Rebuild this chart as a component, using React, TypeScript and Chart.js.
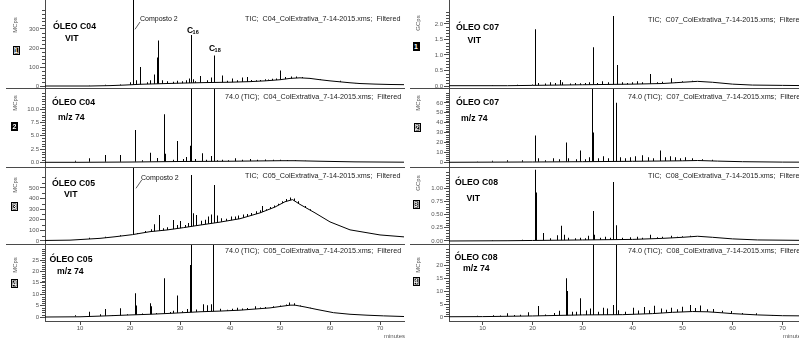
import React, { useEffect, useRef } from 'react';
import { Chart, registerables } from 'chart.js';

Chart.register(...registerables);

const FONT = "'Liberation Sans', Arial, Helvetica, sans-serif";
const AXIS = '#4a4a4a';
const TICK_TXT = '#555555';

// ---- x axis (retention time, minutes) ----
const minuteTicks = [10, 20, 30, 40, 50, 60, 70];

// ---- y tick labels per panel ----
const c04TicTicks = [0, 100, 200, 300];
const c04Mz74Ticks = [0, 2.5, 5, 7.5, 10];
const c05TicTicks = [0, 100, 200, 300, 400, 500];
const c05Mz74Ticks = [0, 5, 10, 15, 20, 25];
const c07TicTicks = [0, 0.5, 1.0, 1.5, 2.0];
const c07Mz74Ticks = [0, 10, 20, 30, 40, 50, 60];
const c08TicTicks = [0, 0.25, 0.5, 0.75, 1.0];
const c08Mz74Ticks = [0, 5, 10, 15, 20];

// ---- chromatogram baselines [time, intensity] ----
const c04TicBaseline = [[3, 0], [12, 0], [16, 2], [19, 5], [22, 9], [26, 12], [30, 15], [35, 18], [40, 20], [44, 23], [47, 27], [50, 33], [52, 40], [54, 43], [56, 40], [58, 33], [60, 27], [62, 22], [64, 17], [66, 13], [69, 10], [72, 8], [75, 7]];
const c04Mz74Baseline = [[3, 0], [10, 0], [20, 0.05], [30, 0.15], [40, 0.2], [50, 0.3], [53, 0.3], [58, 0.2], [65, 0.08], [75, 0.02]];
const c05TicBaseline = [[3, 5], [8, 8], [14, 25], [17, 40], [20.5, 60], [24, 88], [27.4, 104], [30.7, 126], [34, 150], [38, 178], [42, 210], [46, 265], [49, 320], [51, 370], [52.5, 390], [54, 345], [57, 265], [60, 180], [64, 105], [70, 57], [75, 38]];
const c05Mz74Baseline = [[3, 0], [10, 0.1], [14, 0.4], [20, 0.9], [24, 1.2], [28, 1.6], [34, 2.3], [38, 2.6], [42, 3.0], [45, 3.5], [48, 4.0], [50, 4.6], [52, 5.2], [53, 5.2], [55, 4.4], [57.4, 3.3], [60.7, 1.9], [64, 1.2], [67.4, 0.8], [70.7, 0.5], [75, 0.2]];
const c07TicBaseline = [[3, 0.01], [15, 0.01], [20, 0.02], [30, 0.04], [40, 0.06], [46, 0.08], [50, 0.12], [53, 0.15], [56, 0.12], [60, 0.06], [64, 0.03], [70, 0.02], [76, 0.01]];
const c07Mz74Baseline = [[3, 0], [20, 0.3], [30, 0.6], [40, 1], [50, 1.5], [53, 1.8], [57, 1.2], [62, 0.6], [70, 0.2], [76, 0.1]];
const c08TicBaseline = [[3, 0], [15, 0.005], [20, 0.01], [30, 0.02], [40, 0.03], [46, 0.05], [50, 0.07], [53, 0.09], [56, 0.07], [60, 0.04], [65, 0.02], [76, 0.01]];
const c08Mz74Baseline = [[3, 0.1], [10, 0.15], [20, 0.4], [30, 0.8], [38, 0.9], [44, 1.3], [48, 1.8], [52, 2.1], [55, 2.0], [58, 1.6], [60, 1.3], [65, 0.8], [70, 0.5], [76, 0.4]];

// ---- chromatogram peaks [time, apex intensity] ----
const c04TicPeaks = [[11.9, 4], [15.1, 6], [18.1, 8], [20.0, 20], [20.7, 3000], [21.2, 30], [22.1, 100], [23.5, 20], [24.1, 30], [24.8, 60], [25.5, 150], [25.7, 240], [26.5, 30], [27.4, 25], [28.7, 22], [29.5, 28], [30.5, 25], [31.3, 30], [31.8, 40], [32.2, 268], [32.6, 35], [33.0, 25], [34.1, 52], [35.5, 30], [36.2, 45], [36.8, 160], [38.4, 55], [39.5, 28], [40.4, 40], [41.5, 30], [42.5, 45], [43.4, 48], [44.4, 32], [45.3, 30], [46.1, 32], [47.0, 35], [47.7, 34], [48.4, 38], [49.3, 40], [50.1, 81], [51.0, 48], [52.3, 50], [53.2, 50], [54.5, 48], [56.0, 42], [58.0, 36], [62.0, 27], [65.0, 16]];
const c04Mz74Peaks = [[9, 0.3], [11.9, 0.75], [15.1, 1.4], [18.1, 1.4], [21.1, 6.1], [22.5, 0.4], [24.1, 1.8], [25.4, 0.8], [26.9, 9.05], [27.1, 1.6], [28.7, 0.5], [29.5, 4.0], [30.6, 0.6], [31.2, 1.0], [32.0, 3.1], [32.2, 100], [33.0, 0.6], [34.4, 1.7], [35.3, 0.5], [36.2, 1.2], [36.8, 100], [37.5, 0.4], [38.5, 0.5], [39.6, 0.4], [41.0, 0.75], [42.5, 0.5], [44.0, 0.6], [45.5, 0.5], [47.0, 0.55], [48.6, 0.5], [50.0, 0.5], [51.5, 0.45], [53.0, 0.4], [55.0, 0.3]];
const c05TicPeaks = [[11.9, 30], [15.0, 40], [18.0, 55], [20.7, 3000], [21.5, 75], [23.0, 95], [24.3, 110], [24.9, 158], [25.9, 245], [26.6, 120], [27.5, 130], [28.7, 198], [29.4, 150], [30.1, 189], [31.0, 150], [31.6, 170], [32.2, 623], [32.6, 261], [33.3, 245], [34.2, 190], [35.0, 200], [35.6, 230], [36.2, 250], [36.8, 528], [37.4, 240], [38.3, 215], [39.2, 210], [40.2, 230], [41.0, 230], [41.8, 240], [42.6, 250], [43.5, 255], [44.3, 265], [45.2, 280], [46.0, 290], [46.5, 330], [47.3, 300], [48.0, 320], [48.8, 335], [49.6, 350], [50.4, 375], [51.2, 395], [52.0, 410], [52.8, 400], [53.6, 375], [55.0, 330], [56.0, 300]];
const c05Mz74Peaks = [[9, 0.8], [11.9, 2.3], [14, 1.2], [15.1, 3.5], [16.5, 0.8], [18.1, 3.8], [19.5, 1.2], [21.1, 10.4], [21.3, 5], [22.5, 1.5], [24.1, 6], [24.3, 4.7], [25.2, 1.8], [26.9, 17], [28.0, 2.2], [28.7, 2.8], [29.5, 9.4], [30.4, 2.5], [31.4, 3.5], [32.0, 22.8], [32.2, 100], [33.2, 3.3], [34.7, 5.6], [35.5, 5.2], [36.2, 5.6], [36.7, 100], [38.1, 3.6], [39.5, 3.2], [40.5, 3.6], [41.4, 4.1], [42.5, 3.7], [43.5, 4.0], [45.0, 4.7], [46.0, 4.2], [47.0, 4.4], [48.7, 4.7], [50.0, 5.1], [51.2, 5.5], [51.8, 6.4], [52.8, 6.0], [54.0, 5.0], [56.0, 4.1]];
const c07TicPeaks = [[12, 0.03], [17, 0.04], [20.0, 0.05], [20.6, 1.83], [21.1, 0.1], [22.5, 0.08], [23.5, 0.12], [24.5, 0.1], [25.5, 0.19], [26.0, 0.12], [27.5, 0.08], [28.5, 0.1], [29.5, 0.09], [30.5, 0.1], [31.3, 0.12], [32.1, 1.25], [32.3, 0.62], [33.0, 0.1], [34.0, 0.15], [35.2, 0.12], [36.2, 2.26], [36.9, 0.68], [38.0, 0.12], [39.0, 0.1], [40.0, 0.12], [41.0, 0.15], [42.0, 0.12], [43.5, 0.39], [45.0, 0.12], [46.0, 0.14], [47.8, 0.25], [48.5, 0.12], [50.0, 0.15], [52.0, 0.17]];
const c07Mz74Peaks = [[9, 0.8], [12, 1.5], [15, 2], [18, 2], [20.6, 27], [21.2, 4], [22.5, 2], [24.2, 4], [25.4, 3], [26.7, 20], [27.2, 4], [28.7, 3], [29.5, 12], [30.5, 3], [31.3, 5], [32.0, 500], [32.3, 30], [33.2, 4], [34.2, 6], [35.2, 4], [36.2, 500], [36.7, 60], [37.5, 5], [38.5, 4], [39.5, 5], [40.5, 6], [42.0, 7], [43.2, 5], [44.2, 4], [45.5, 12], [46.5, 5], [47.5, 6], [48.5, 5], [49.5, 4], [50.5, 5], [52.0, 4], [54.0, 3], [56.0, 2.5]];
const c08TicPeaks = [[12, 0.02], [15, 0.02], [18, 0.025], [20.6, 1.35], [20.8, 0.92], [22.1, 0.15], [23.5, 0.05], [24.9, 0.11], [25.8, 0.29], [26.3, 0.12], [27.2, 0.06], [28.5, 0.05], [29.5, 0.06], [30.5, 0.05], [31.2, 0.1], [32.1, 0.57], [32.4, 0.12], [33.5, 0.06], [34.5, 0.08], [35.5, 0.06], [36.2, 1.12], [36.8, 0.3], [38.0, 0.06], [39.5, 0.07], [41.0, 0.08], [42.0, 0.06], [43.5, 0.12], [45.0, 0.07], [46.0, 0.08], [47.8, 0.1], [49.0, 0.08], [50.0, 0.09], [51.5, 0.1]];
const c08Mz74Peaks = [[8.9, 0.5], [12.2, 0.7], [13.5, 0.6], [15, 1.4], [16.3, 0.8], [17.5, 0.9], [19.2, 1.8], [21.1, 4.2], [22.5, 1], [24.3, 1.5], [25.4, 2.4], [26.7, 14.9], [26.9, 10], [27.9, 2], [28.8, 2], [29.5, 7.2], [30.7, 2.5], [31.5, 3.3], [32.1, 100], [32.3, 4.6], [33.2, 2], [34.1, 3.6], [35.0, 3.3], [36.1, 4.6], [36.7, 100], [37.1, 2.6], [38.5, 2.0], [40.2, 3.6], [41.2, 2.5], [42.3, 3.8], [43.3, 2.6], [44.4, 4.3], [45.8, 3.3], [46.8, 2.8], [47.7, 3.6], [49.0, 3.0], [50.0, 3.9], [51.6, 4.6], [52.5, 3.5], [53.5, 4.4], [55.0, 3], [56.1, 3.1], [58.0, 2.4], [59.8, 2.3], [62.0, 1.5], [64.8, 1.4], [68.0, 0.8]];

type PanelCfg = {
  left: number; top: number; bottom: number;
  xMin: number; xMax: number; yMin: number; yMax: number;
  yTicks: number[]; decimals: number; minorStep: number; minorTop: number;
  baseline: number[][]; peaks: number[][]; showX: boolean;
};

const L = 0;
const R = 404;
const LX = { xMin: 3.0, xMax: 74.8 };
const RX = { xMin: 3.3, xMax: 75.1 };

const panels: PanelCfg[] = [
  { left: L, top: 0, bottom: 88, ...LX, yMin: -10.5, yMax: 452.6, yTicks: c04TicTicks, decimals: 0, minorStep: 20, minorTop: 400, baseline: c04TicBaseline, peaks: c04TicPeaks, showX: false },
  { left: L, top: 89, bottom: 167, ...LX, yMin: -0.887, yMax: 13.83, yTicks: c04Mz74Ticks, decimals: 1, minorStep: 0.5, minorTop: 13, baseline: c04Mz74Baseline, peaks: c04Mz74Peaks, showX: false },
  { left: L, top: 168, bottom: 244, ...LX, yMin: -28.3, yMax: 688, yTicks: c05TicTicks, decimals: 0, minorStep: 50, minorTop: 620, baseline: c05TicBaseline, peaks: c05TicPeaks, showX: false },
  { left: L, top: 245, bottom: 321, ...LX, yMin: -1.75, yMax: 31.6, yTicks: c05Mz74Ticks, decimals: 0, minorStep: 1, minorTop: 30, baseline: c05Mz74Baseline, peaks: c05Mz74Peaks, showX: true },
  { left: R, top: 0, bottom: 88, ...RX, yMin: -0.0645, yMax: 2.774, yTicks: c07TicTicks, decimals: 1, minorStep: 0.1, minorTop: 2.4, baseline: c07TicBaseline, peaks: c07TicPeaks, showX: false },
  { left: R, top: 89, bottom: 167, ...RX, yMin: -4.75, yMax: 74, yTicks: c07Mz74Ticks, decimals: 0, minorStep: 2, minorTop: 70, baseline: c07Mz74Baseline, peaks: c07Mz74Peaks, showX: false },
  { left: R, top: 168, bottom: 244, ...RX, yMin: -0.057, yMax: 1.385, yTicks: c08TicTicks, decimals: 2, minorStep: 0.05, minorTop: 1.3, baseline: c08TicBaseline, peaks: c08TicPeaks, showX: false },
  { left: R, top: 245, bottom: 321, ...RX, yMin: -1.54, yMax: 27.7, yTicks: c08Mz74Ticks, decimals: 0, minorStep: 1, minorTop: 26, baseline: c08Mz74Baseline, peaks: c08Mz74Peaks, showX: true },
];

const CANVAS_W = 405;
const Y_AXIS_W = 45;
const X_AXIS_H = 14;

// snap 1px peak bars to whole device pixels so they draw crisp like the source plot
const snapBars = {
  id: 'snapBars',
  afterDatasetsUpdate(chart: any) {
    chart.data.datasets.forEach((_d: any, i: number) => {
      const meta = chart.getDatasetMeta(i);
      if (meta.type !== 'bar') return;
      meta.data.forEach((el: any) => { el.x = Math.floor(el.x) + 0.5; });
    });
  },
};

const axisExtras = {
  id: 'axisExtras',
  afterDraw(chart: any, _args: any, opts: any) {
    const { ctx, chartArea } = chart;
    const ys = chart.scales.y;
    ctx.save();
    ctx.strokeStyle = AXIS;
    ctx.lineWidth = 1;
    ctx.beginPath();
    const n = Math.floor(opts.minorTop / opts.minorStep + 1e-6);
    for (let i = 0; i <= n; i++) {
      const v = i * opts.minorStep;
      if (opts.majors.some((m: number) => Math.abs(m - v) < opts.minorStep / 10)) continue;
      const py = Math.round(ys.getPixelForValue(v)) + 0.5;
      ctx.moveTo(chartArea.left - 3, py);
      ctx.lineTo(chartArea.left, py);
    }
    if (opts.extend) {
      const by = Math.round(chartArea.bottom) + 0.5;
      ctx.moveTo(6, by);
      ctx.lineTo(chartArea.left, by);
    }
    ctx.stroke();
    ctx.restore();
  },
};

function PanelChart({ cfg }: { cfg: PanelCfg }) {
  const ref = useRef<HTMLCanvasElement>(null);
  const h = cfg.bottom - cfg.top + (cfg.showX ? X_AXIS_H : 1);
  useEffect(() => {
    const chart = new Chart(ref.current as HTMLCanvasElement, {
      type: 'bar',
      data: {
        datasets: [
          {
            type: 'line',
            data: cfg.baseline.map(([x, y]) => ({ x, y })),
            borderColor: '#000',
            borderWidth: 1,
            pointRadius: 0,
            tension: 0,
            fill: 'origin',
            backgroundColor: '#ffffff',
            order: 0,
          } as any,
          {
            type: 'bar',
            data: cfg.peaks.map(([x, y]) => ({ x, y })),
            backgroundColor: '#000',
            borderWidth: 0,
            inflateAmount: 0,
            barThickness: 1,
            order: 1,
          } as any,
        ],
      },
      options: {
        responsive: false,
        animation: false,
        devicePixelRatio: 1,
        events: [],
        layout: { padding: { left: 0, right: 1, top: 0, bottom: 0 }, autoPadding: false } as any,
        plugins: {
          legend: { display: false },
          tooltip: { enabled: false },
          axisExtras: { minorStep: cfg.minorStep, minorTop: cfg.minorTop, majors: cfg.yTicks, extend: !cfg.showX },
        } as any,
        scales: {
          x: {
            type: 'linear',
            min: cfg.xMin,
            max: cfg.xMax,
            offset: false,
            grid: { display: cfg.showX, drawOnChartArea: false, drawTicks: true, tickLength: 4, color: AXIS, offset: false },
            border: { display: true, color: AXIS, width: 1 },
            ticks: { display: cfg.showX, autoSkip: false, maxRotation: 0, padding: 0, color: TICK_TXT, font: { family: FONT, size: 6 } },
            afterBuildTicks: (s: any) => { s.ticks = minuteTicks.map((v) => ({ value: v })); },
            afterFit: (s: any) => { s.height = cfg.showX ? X_AXIS_H : 1; s.paddingLeft = 0; s.paddingRight = 0; },
          },
          y: {
            type: 'linear',
            min: cfg.yMin,
            max: cfg.yMax,
            grid: { display: true, drawOnChartArea: false, drawTicks: true, tickLength: 5, color: AXIS },
            border: { display: true, color: AXIS, width: 1 },
            ticks: {
              padding: 1,
              color: TICK_TXT,
              font: { family: FONT, size: 6 },
              callback: (v: any) => Number(v).toFixed(cfg.decimals),
            },
            afterBuildTicks: (s: any) => { s.ticks = cfg.yTicks.map((v) => ({ value: v })); },
            afterFit: (s: any) => { s.width = Y_AXIS_W; s.paddingTop = 0; s.paddingBottom = 0; },
          },
        },
      } as any,
      plugins: [snapBars as any, axisExtras as any],
    });
    return () => chart.destroy();
  }, []);
  return (
    <canvas
      ref={ref}
      width={CANVAS_W}
      height={h}
      style={{ position: 'absolute', left: cfg.left, top: cfg.top, width: CANVAS_W, height: h }}
    />
  );
}

type Txt = { x: number; y: number; t: string; size: number; bold?: boolean; color?: string; rot?: boolean };

const texts: Txt[] = [
  // titles
  { x: 53, y: 26, t: 'ÓLEO C04', size: 8.7, bold: true },
  { x: 65, y: 37.5, t: 'VIT', size: 8.7, bold: true },
  { x: 52, y: 102, t: 'ÓLEO C04', size: 8.7, bold: true },
  { x: 58, y: 116.5, t: 'm/z 74', size: 8.7, bold: true },
  { x: 52, y: 183, t: 'ÓLEO C05', size: 8.7, bold: true },
  { x: 64, y: 194, t: 'VIT', size: 8.7, bold: true },
  { x: 49.5, y: 259, t: 'ÓLEO C05', size: 8.7, bold: true },
  { x: 57, y: 270.5, t: 'm/z 74', size: 8.7, bold: true },
  { x: 456, y: 26.5, t: 'ÓLEO C07', size: 8.7, bold: true },
  { x: 467.5, y: 40, t: 'VIT', size: 8.7, bold: true },
  { x: 456, y: 102, t: 'ÓLEO C07', size: 8.7, bold: true },
  { x: 461, y: 118, t: 'm/z 74', size: 8.7, bold: true },
  { x: 455, y: 182, t: 'ÓLEO C08', size: 8.7, bold: true },
  { x: 466.5, y: 198, t: 'VIT', size: 8.7, bold: true },
  { x: 454.5, y: 256.5, t: 'ÓLEO C08', size: 8.7, bold: true },
  { x: 463, y: 267.5, t: 'm/z 74', size: 8.7, bold: true },
  // headers
  { x: 245, y: 19, t: 'TIC;  C04_ColExtrativa_7-14-2015.xms;  Filtered', size: 7.2, color: '#222' },
  { x: 225, y: 97, t: '74.0 (TIC);  C04_ColExtrativa_7-14-2015.xms;  Filtered', size: 7.2, color: '#222' },
  { x: 245, y: 176, t: 'TIC;  C05_ColExtrativa_7-14-2015.xms;  Filtered', size: 7.2, color: '#222' },
  { x: 225, y: 250.5, t: '74.0 (TIC);  C05_ColExtrativa_7-14-2015.xms;  Filtered', size: 7.2, color: '#222' },
  { x: 648, y: 19.5, t: 'TIC;  C07_ColExtrativa_7-14-2015.xms;  Filtered', size: 7.2, color: '#222' },
  { x: 628, y: 97, t: '74.0 (TIC);  C07_ColExtrativa_7-14-2015.xms;  Filtered', size: 7.2, color: '#222' },
  { x: 648, y: 176, t: 'TIC;  C08_ColExtrativa_7-14-2015.xms;  Filtered', size: 7.2, color: '#222' },
  { x: 628, y: 251, t: '74.0 (TIC);  C08_ColExtrativa_7-14-2015.xms;  Filtered', size: 7.2, color: '#222' },
  // annotations
  { x: 140, y: 18, t: 'Composto 2', size: 7, color: '#111' },
  { x: 141, y: 177, t: 'Composto 2', size: 7, color: '#111' },
  { x: 187, y: 30, t: 'C', size: 8.5, bold: true },
  { x: 192.6, y: 32.5, t: '16', size: 5.5, bold: true },
  { x: 209, y: 48.3, t: 'C', size: 8.5, bold: true },
  { x: 214.6, y: 51, t: '18', size: 5.5, bold: true },
  // axis units
  { x: 15, y: 25, t: 'MCps', size: 6, color: TICK_TXT, rot: true },
  { x: 15, y: 103, t: 'MCps', size: 6, color: TICK_TXT, rot: true },
  { x: 15, y: 185, t: 'MCps', size: 6, color: TICK_TXT, rot: true },
  { x: 15, y: 265, t: 'MCps', size: 6, color: TICK_TXT, rot: true },
  { x: 418.3, y: 23, t: 'GCps', size: 6, color: TICK_TXT, rot: true },
  { x: 418.3, y: 103, t: 'MCps', size: 6, color: TICK_TXT, rot: true },
  { x: 418.3, y: 183, t: 'GCps', size: 6, color: TICK_TXT, rot: true },
  { x: 418.3, y: 265, t: 'MCps', size: 6, color: TICK_TXT, rot: true },
  { x: 384, y: 335.5, t: 'minutes', size: 6, color: TICK_TXT },
  { x: 783, y: 335.5, t: 'minutes', size: 6, color: TICK_TXT },
];

type Badge = { x: number; y: number; n: string; framed: boolean };
const badges: Badge[] = [
  { x: 16, y: 50.5, n: '1', framed: true },
  { x: 14.5, y: 126.5, n: '2', framed: false },
  { x: 14.5, y: 206, n: '3', framed: true },
  { x: 14.5, y: 283.5, n: '4', framed: true },
  { x: 416, y: 46, n: '1', framed: false },
  { x: 417, y: 127, n: '2', framed: true },
  { x: 416, y: 204, n: '3', framed: true },
  { x: 416, y: 281, n: '4', framed: true },
];

export default function App() {
  return (
    <div style={{ position: 'fixed', left: 0, top: 0, width: 799, height: 339, overflow: 'hidden', background: '#fff', fontFamily: FONT }}>
      {panels.map((p, i) => <PanelChart key={i} cfg={p} />)}
      <svg width={799} height={339} style={{ position: 'absolute', left: 0, top: 0, pointerEvents: 'none' }}>
        <line x1={135} y1={29.3} x2={140} y2={22} stroke="#333" strokeWidth={0.8} />
        <line x1={136} y1={188.3} x2={141.7} y2={180} stroke="#333" strokeWidth={0.8} />
      </svg>
      {texts.map((t, i) => (
        <div
          key={i}
          style={{
            position: 'absolute',
            left: t.x,
            top: t.y,
            fontSize: t.size,
            lineHeight: 1,
            fontWeight: t.bold ? 700 : 400,
            color: t.color || '#000',
            whiteSpace: 'pre',
            transform: t.rot ? 'translate(-50%, -50%) rotate(-90deg)' : 'translateY(-50%)',
          }}
        >
          {t.t}
        </div>
      ))}
      {badges.map((b, i) => (
        <div
          key={'b' + i}
          style={{
            position: 'absolute',
            left: b.x - 3.5,
            top: b.y - 4.5,
            width: 7,
            height: 9,
            background: '#000',
            color: '#fff',
            fontSize: 7,
            fontWeight: 700,
            lineHeight: '9px',
            textAlign: 'center',
            boxSizing: 'border-box',
            boxShadow: b.framed ? 'inset 0 0 0 1px #000, inset 0 0 0 1.6px #fff' : 'none',
          }}
        >
          {b.n}
        </div>
      ))}
    </div>
  );
}
